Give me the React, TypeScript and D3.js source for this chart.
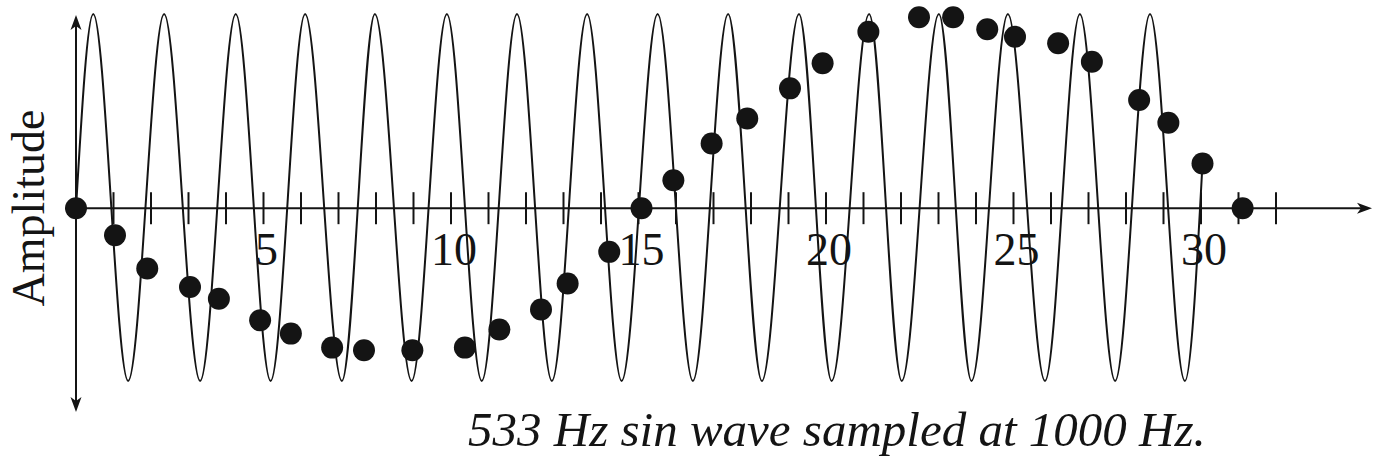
import React from 'react';
import * as d3 from 'd3';

// sampled points (time in ms, amplitude)
const sampleTimes = [0, 1.04, 1.9, 3.04, 3.81, 4.91, 5.73, 6.83, 7.68, 8.97, 10.37, 11.29, 12.4, 13.11, 14.22, 15.08,
    15.93, 16.95, 17.9, 19.04, 19.91, 21.13, 22.48, 23.39, 24.3, 25.04, 26.19, 27.09, 28.35, 29.13, 30.04, 31.11];
const sampleAmps = [0, -0.139, -0.311, -0.406, -0.466, -0.577, -0.646, -0.718, -0.732, -0.732, -0.718, -0.625, -0.522, -0.388, -0.225, 0,
    0.144, 0.333, 0.462, 0.617, 0.746, 0.909, 0.983, 0.983, 0.921, 0.883, 0.849, 0.754, 0.557, 0.44, 0.23, 0];

// the 533 Hz wave: start, every crest and trough, end
const waveTimes = [0, 0.46, 1.39, 2.35, 3.31, 4.26, 5.19, 6.11, 7.09, 7.97, 8.95, 9.89, 10.82, 11.76, 12.69, 13.63, 14.55,
    15.51, 16.45, 17.39, 18.29, 19.28, 20.15, 21.15, 22.02, 23.01, 23.88, 24.85, 25.84, 26.77, 27.71, 28.64, 29.57, 30.04];
const waveAmps = [0, 1, -0.89, 1, -0.89, 1, -0.89, 1, -0.89, 1, -0.89, 1, -0.89, 1, -0.89, 1, -0.89,
    1, -0.89, 1, -0.89, 1, -0.89, 1, -0.89, 1, -0.89, 1, -0.89, 1, -0.89, 1, -0.89, 0.23];

const tickValues = d3.range(1, 33);
const tickLabels = [5, 10, 15, 20, 25, 30];

const yLabel = 'Amplitude';
const caption = '533 Hz sin wave sampled at 1000 Hz.';

const W = 1374;
const H = 462;
const ink = '#141414';
const serif = '"Liberation Serif", "DejaVu Serif", serif';

export default function App() {
    const x = d3.scaleLinear().domain([0, 32]).range([76, 1276]);
    const y = d3.scaleLinear().domain([-0.89, 1]).range([381, 14]);

    const y0 = y(0);
    const x0 = x(0);
    const axisEnd = 1372;
    const yTop = 15;
    const yBottom = 412;

    const wave = d3.line<number>()
        .x((d, i) => x(waveTimes[i]))
        .y(d => y(d))
        .curve(d3.curveMonotoneX)(waveAmps);

    const head = (tx: number, ty: number, angle: number) => {
        const len = 15, half = 5.5, notch = 11;
        return (
            <path
                d={`M0,0 L${-len},${-half} L${-notch},0 L${-len},${half} Z`}
                transform={`translate(${tx},${ty}) rotate(${angle})`}
                fill={ink}
            />
        );
    };

    return (
        <svg width={W} height={H} style={{ position: 'absolute', left: 0, top: 0, background: '#fff' }}>
            <rect width={W} height={H} fill="#fff" />

            {/* axes */}
            <line x1={x0} x2={axisEnd - 4} y1={y0} y2={y0} stroke={ink} strokeWidth={2} />
            {head(axisEnd, y0, 0)}
            <line x1={x0} x2={x0} y1={yTop + 4} y2={yBottom - 4} stroke={ink} strokeWidth={2} />
            {head(x0, yTop, -90)}
            {head(x0, yBottom, 90)}

            {tickValues.map(t => (
                <line key={t} x1={x(t)} x2={x(t)} y1={y0 - 16} y2={y0 + 16} stroke={ink} strokeWidth={2} />
            ))}

            {tickLabels.map(t => (
                <text key={t} x={x(t) + 3} y={265} textAnchor="middle" fontFamily={serif} fontSize={46} fill={ink}>
                    {t}
                </text>
            ))}

            {/* continuous wave */}
            <path d={wave || ''} fill="none" stroke={ink} strokeWidth={2} />

            {/* samples */}
            {sampleTimes.map((t, i) => (
                <circle key={i} cx={x(t)} cy={y(sampleAmps[i])} r={11} fill={ink} />
            ))}

            <text transform={`translate(44,208) rotate(-90)`} textAnchor="middle" fontFamily={serif} fontSize={46} fill={ink}>
                {yLabel}
            </text>

            <text x={468} y={446} fontFamily={serif} fontStyle="italic" fontSize={49} fill={ink}>
                {caption}
            </text>
        </svg>
    );
}
